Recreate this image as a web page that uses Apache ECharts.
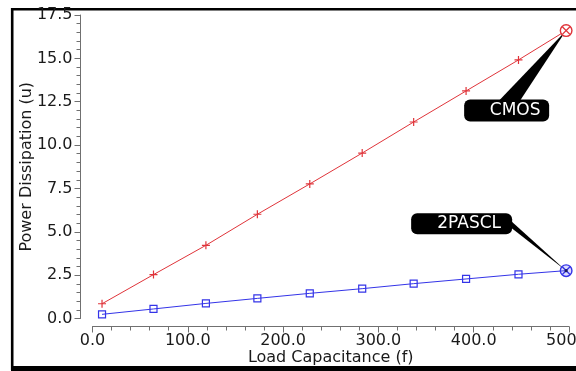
<!DOCTYPE html>
<html>
<head>
<meta charset="utf-8">
<script src="https://cdn.jsdelivr.net/npm/echarts@6/dist/echarts.min.js"></script>
<style>
  html, body { margin: 0; padding: 0; background: #fff; }
  #chart { width: 576px; height: 371px; }
</style>
</head>
<body>
<div id="chart"></div>
<script>
// Load capacitance (fF) at each simulated point
const loadCap = [10, 64, 119, 173, 228, 283, 337, 392, 447, 497];
// Power dissipation (uW) per logic style
const cmosPower = [0.85, 2.53, 4.22, 6.01, 7.76, 9.54, 11.33, 13.12, 14.91, 16.6];
const pasclPower = [0.24, 0.55, 0.87, 1.16, 1.45, 1.72, 2.01, 2.28, 2.55, 2.76];
const seriesNames = ['CMOS', '2PASCL'];
const xAxisTitle = 'Load Capacitance (f)';
const yAxisTitle = 'Power Dissipation (u)';

const X_RANGE = { min: 0, max: 500, interval: 100 };
const Y_RANGE = { min: 0, max: 17.5, interval: 2.5 };

const RED = '#e0343a';
const BLUE = '#3434e8';
const FONT = 'DejaVu Sans';
const AXIS_GRAY = '#707070';

const plusPath = 'path://M0,3.4H3.4V0H4.6V3.4H8V4.6H4.6V8H3.4V4.6H0Z';

function pairs(ys) {
  // the last point carries the circled end marker instead of the regular symbol
  return ys.map((y, i) => i === ys.length - 1
    ? { value: [loadCap[i], y], symbol: 'none' }
    : [loadCap[i], y]);
}

// Callout layout, in pixels relative to the annotated point
const calloutLayout = {
  CMOS:   { box: [-102, 69, 85, 22], text: [-51, 80], wedge: [[-67, 70], [-46, 70]], end: 'red' },
  '2PASCL': { box: [-155, -57.5, 101, 21], text: [-97, -47], wedge: [[-62, -56], [-55, -43]], end: 'blue' }
};

function renderCallout(params, api) {
  const name = seriesNames[params.dataIndex];
  const L = calloutLayout[name];
  const p = api.coord([api.value(0), api.value(1)]);
  const color = L.end === 'red' ? RED : BLUE;
  const children = [
    { type: 'polygon', shape: { points: [[p[0], p[1]], [p[0] + L.wedge[0][0], p[1] + L.wedge[0][1]], [p[0] + L.wedge[1][0], p[1] + L.wedge[1][1]]] },
      style: { fill: '#000' } },
    { type: 'rect', shape: { x: p[0] + L.box[0], y: p[1] + L.box[1], width: L.box[2], height: L.box[3], r: 6 },
      style: { fill: '#000' } },
    { type: 'text', style: { x: p[0] + L.text[0], y: p[1] + L.text[1], text: name, fill: '#fff',
      font: '17px "' + FONT + '"', align: 'center', verticalAlign: 'middle' } },
    { type: 'circle', shape: { cx: p[0], cy: p[1], r: 5.8 },
      style: { fill: L.end === 'red' ? '#fff' : 'rgba(120,120,255,0.25)', stroke: color, lineWidth: 1.4 } },
    { type: 'line', shape: { x1: p[0] - 3.8, y1: p[1] - 3.8, x2: p[0] + 3.8, y2: p[1] + 3.8 },
      style: { stroke: color, lineWidth: 1.3 } },
    { type: 'line', shape: { x1: p[0] - 3.8, y1: p[1] + 3.8, x2: p[0] + 3.8, y2: p[1] - 3.8 },
      style: { stroke: color, lineWidth: 1.3 } }
  ];
  if (L.end === 'blue') {
    children.push({ type: 'circle', shape: { cx: p[0], cy: p[1], r: 1.6 }, style: { fill: '#1a1a60' } });
  }
  return { type: 'group', children };
}

const tickStyle = { lineStyle: { color: AXIS_GRAY } };
const labelStyle = { fontFamily: FONT, fontSize: 16, color: '#1a1a1a', formatter: v => v.toFixed(1) };

const last = loadCap.length - 1;
const chart = echarts.init(document.getElementById('chart'), null, { renderer: 'canvas' });
chart.setOption({
  animation: false,
  backgroundColor: '#fff',
  // grid 0: plotting area; grid 1 carries the detached value axis on the left,
  // grid 2 the detached category axis underneath, both sharing the same scales
  grid: [
    { left: 92.5, right: 7, top: 15, bottom: 52.5, outerBoundsMode: 'none' },
    { left: 80.5, width: 10, top: 15, bottom: 52.5, outerBoundsMode: 'none' },
    { left: 92.5, right: 7, height: 10, bottom: 44.5, outerBoundsMode: 'none' }
  ],
  xAxis: [
    Object.assign({ type: 'value', gridIndex: 0, show: false }, X_RANGE),
    { type: 'value', gridIndex: 1, show: false, min: 0, max: 1 },
    Object.assign({
      type: 'value', gridIndex: 2, position: 'bottom',
      name: xAxisTitle, nameLocation: 'middle', nameGap: 23.5, nameMoveOverlap: false,
      nameTextStyle: { fontFamily: FONT, fontSize: 16, color: '#1a1a1a' },
      axisLine: { show: true, lineStyle: { color: AXIS_GRAY, width: 1 } },
      axisTick: Object.assign({ show: true, length: 6 }, tickStyle),
      minorTick: Object.assign({ show: true, splitNumber: 5, length: 4 }, tickStyle),
      axisLabel: Object.assign({ margin: 6 }, labelStyle),
      splitLine: { show: false }
    }, X_RANGE)
  ],
  yAxis: [
    Object.assign({ type: 'value', gridIndex: 0, show: false }, Y_RANGE),
    Object.assign({
      type: 'value', gridIndex: 1, position: 'left',
      name: yAxisTitle, nameLocation: 'middle', nameGap: 45.5, nameMoveOverlap: false,
      nameTextStyle: { fontFamily: FONT, fontSize: 16, color: '#1a1a1a' },
      axisLine: { show: true, lineStyle: { color: AXIS_GRAY, width: 1 } },
      axisTick: Object.assign({ show: true, length: 6 }, tickStyle),
      minorTick: Object.assign({ show: true, splitNumber: 5, length: 4 }, tickStyle),
      axisLabel: Object.assign({ margin: 8 }, labelStyle),
      splitLine: { show: false }
    }, Y_RANGE),
    { type: 'value', gridIndex: 2, show: false, min: 0, max: 1 }
  ],
  graphic: [
    { type: 'line', z: -1, shape: { x1: 12.2, y1: 8, x2: 12.2, y2: 370 }, style: { stroke: '#000', lineWidth: 2.6 } },
    { type: 'line', z: -1, shape: { x1: 11, y1: 9.2, x2: 576, y2: 9.2 }, style: { stroke: '#000', lineWidth: 2.6 } },
    { type: 'rect', z: -1, shape: { x: 11, y: 366, width: 565, height: 5 }, style: { fill: '#000' } }
  ],
  series: [
    {
      name: seriesNames[0], type: 'line', data: pairs(cmosPower),
      xAxisIndex: 0, yAxisIndex: 0,
      symbol: plusPath, symbolSize: 8, showAllSymbol: true,
      lineStyle: { color: RED, width: 1 }, itemStyle: { color: RED }, z: 3
    },
    {
      name: seriesNames[1], type: 'line', data: pairs(pasclPower),
      xAxisIndex: 0, yAxisIndex: 0,
      symbol: 'rect', symbolSize: 7, showAllSymbol: true,
      lineStyle: { color: BLUE, width: 1 },
      itemStyle: { color: 'rgba(255,255,255,0)', borderColor: BLUE, borderWidth: 1.2 }, z: 3
    },
    {
      type: 'custom', renderItem: renderCallout, z: 5,
      xAxisIndex: 0, yAxisIndex: 0, clip: false,
      data: [[loadCap[last], cmosPower[last]], [loadCap[last], pasclPower[last]]]
    }
  ]
});
</script>
</body>
</html>
